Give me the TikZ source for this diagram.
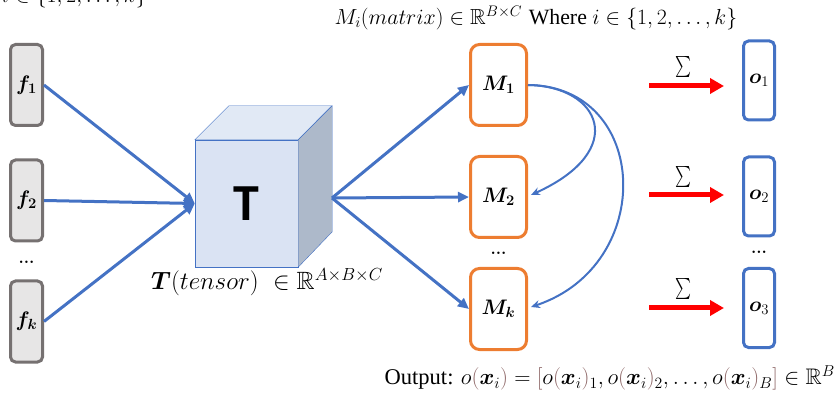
\RequirePackage{fix-cm}
\documentclass[tikz,border=0pt]{standalone}
\usepackage{amsmath}
\usepackage{amssymb}
\usepackage{bm}
\usepackage{graphicx}
\usepackage{fontspec}
\usetikzlibrary{arrows.meta,calc}
\newfontfamily\timesfont{Liberation Serif}
\newfontfamily\calibrifont{Carlito}
\definecolor{blueline}{HTML}{4472C4}
\definecolor{orangeline}{HTML}{ED7D31}
\definecolor{boxgray}{HTML}{767171}
\definecolor{fillgray}{HTML}{E7E6E6}
\definecolor{cubefront}{HTML}{DAE3F3}
\definecolor{cubeside}{HTML}{ADB9CA}
\definecolor{brk}{HTML}{8C6565}
\newcommand{\fsize}[1]{\fontsize{#1}{#1}\selectfont}
\newcommand{\lb}[1]{{\color{brk}#1}}
\newcommand{\narrowsum}{\scalebox{0.72}[1]{$\sum$}}
\tikzset{
  fbox/.style={draw=boxgray, fill=fillgray, line width=3pt, rounded corners=5pt,
    minimum width=32pt, minimum height=81pt, inner sep=0pt, font=\fsize{21}},
  mbox/.style={draw=orangeline, fill=white, line width=3pt, rounded corners=9pt,
    minimum width=56pt, minimum height=81pt, inner sep=0pt, font=\fsize{21}},
  obox/.style={draw=blueline, fill=white, line width=3pt, rounded corners=5pt,
    minimum width=31pt, minimum height=79pt, inner sep=0pt, font=\fsize{21}},
  flow/.style={blueline, line width=3pt, -{Triangle[length=11pt,width=10pt]}},
  loopback/.style={blueline, line width=2pt, -{Stealth[length=9pt,width=8pt]}},
  sumarrow/.style={red, line width=5pt, -{Triangle[length=14pt,width=15pt]}},
  dotsnode/.style={font=\fsize{17}\bfseries, inner sep=0pt},
  caption/.style={font=\fsize{22.5}, inner sep=0pt}
}
\begin{document}
\begin{tikzpicture}[x=1pt,y=-1pt]
\useasboundingbox (0,0) rectangle (836,398);

% labels on top
\node[caption, font=\fsize{21.8}, anchor=east] (wherecut) at (147,-3) {\timesfont Where $i \in \{1,2,\ldots,k\}$};
\node[caption, font=\fsize{21.8}] (mlabel) at (536,18) {$M_i(matrix) \in \mathbb{R}^{B\times C}$ \timesfont Where $i \in \{1,2,\ldots,k\}$};

% inputs
\node[fbox] (f1) at (26.5,85) {$\bm{f_1}$};
\node[fbox] (f2) at (26.5,200.5) {$\bm{f_2}$};
\node[fbox] (fk) at (26.5,321.5) {$\bm{f_k}$};
\node[dotsnode] (fdots) at (26.5,262) {...};

% tensor cube
\node[draw=blueline, fill=cubefront, minimum width=103pt, minimum height=127pt, inner sep=0pt] (T) at (246.5,203.5) {};
\filldraw[draw=blueline, fill=cubefront!80!white] (T.north west) -- ++(34,-34) -- ++(103,0) -- (T.north east) -- cycle;
\filldraw[draw=blueline, fill=cubeside] (T.north east) -- ++(34,-34) -- ++(0,126) -- (T.south east) -- cycle;
\node[font=\fsize{52}\calibrifont\bfseries] (Tletter) at (T.center) {T};
\coordinate (Tout) at (332,198);
\node[caption, font=\fsize{25}] (tlabel) at (267,282) {$\bm{T}(tensor)\ \in \mathbb{R}^{A\times B\times C}$};

\draw[flow] (f1.east) -- (T.west);
\draw[flow] (f2.east) -- (T.west);
\draw[flow] (fk.east) -- (T.west);

% matrices
\node[mbox] (M1) at (498.5,85) {$\bm{M_1}$};
\node[mbox] (M2) at (498.5,197) {$\bm{M_2}$};
\node[mbox] (Mk) at (498.5,309) {$\bm{M_k}$};
\node[dotsnode] (mdots) at (498.5,253) {...};

\draw[flow] (Tout) -- (M1.west);
\draw[flow] (Tout) -- (M2.west);
\draw[flow] (Tout) -- (Mk.west);

\draw[loopback] (M1.east) .. controls (600,86) and (630,150) .. ($(M2.east)+(3,-2)$);
\draw[loopback] (M1.east) .. controls (650,86) and (657,265) .. ($(Mk.east)+(3,-2)$);

% outputs
\node[obox] (o1) at (759,80.5) {$\bm{o}_1$};
\node[obox] (o2) at (759,196.5) {$\bm{o}_2$};
\node[obox] (o3) at (759,308) {$\bm{o}_3$};
\node[dotsnode] (odots) at (759,252) {...};

\coordinate (s1) at (649,86);  \coordinate (e1) at (724,86);
\coordinate (s2) at (649,195); \coordinate (e2) at (724,195);
\coordinate (s3) at (649,308); \coordinate (e3) at (724,308);
\draw[sumarrow] (s1) -- (e1);
\draw[sumarrow] (s2) -- (e2);
\draw[sumarrow] (s3) -- (e3);
\node[caption, font=\fsize{21}] (sig1) at (683,67) {\narrowsum};
\node[caption, font=\fsize{21}] (sig2) at (683,177) {\narrowsum};
\node[caption, font=\fsize{21}] (sig3) at (683,289) {\narrowsum};

% output formula
\node[caption, anchor=east] (outlabel) at (835,378) {\timesfont Output: $o\lb{(}\bm{x}_i\lb{)} = \lb{[}o\lb{(}\bm{x}_i\lb{)}_1, o\lb{(}\bm{x}_i\lb{)}_2, \ldots, o\lb{(}\bm{x}_i\lb{)}_B\lb{]} \in \mathbb{R}^B$};
\end{tikzpicture}
\end{document}
